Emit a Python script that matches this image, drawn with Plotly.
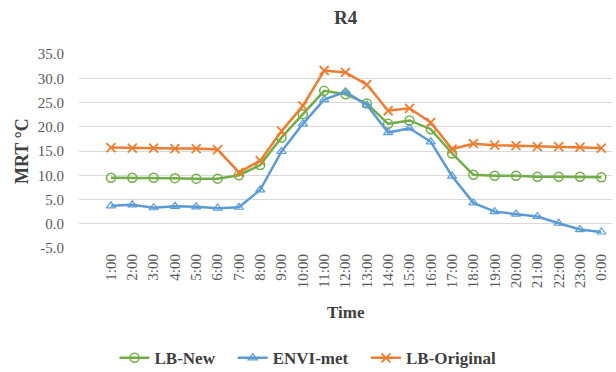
import plotly.graph_objects as go

hours = ["1:00", "2:00", "3:00", "4:00", "5:00", "6:00", "7:00", "8:00", "9:00", "10:00",
         "11:00", "12:00", "13:00", "14:00", "15:00", "16:00", "17:00", "18:00", "19:00",
         "20:00", "21:00", "22:00", "23:00", "0:00"]

lb_new = [9.5, 9.5, 9.5, 9.4, 9.3, 9.3, 10.0, 12.1, 17.8, 22.6, 27.4, 26.7, 24.8, 20.6,
          21.3, 19.5, 14.5, 10.1, 9.9, 9.9, 9.7, 9.7, 9.7, 9.6]
envi_met = [3.7, 3.9, 3.3, 3.6, 3.5, 3.2, 3.4, 7.0, 14.9, 20.6, 25.6, 27.2, 24.5, 18.8,
            19.7, 16.9, 9.8, 4.3, 2.5, 2.0, 1.5, 0.1, -1.2, -1.7]
lb_original = [15.7, 15.6, 15.6, 15.5, 15.5, 15.3, 10.6, 13.0, 19.1, 24.3, 31.6, 31.2, 28.7,
               23.3, 23.8, 20.9, 15.4, 16.5, 16.2, 16.1, 15.9, 15.9, 15.8, 15.6]

y_ticks = [-5, 0, 5, 10, 15, 20, 25, 30, 35]

GREEN = "#70AD47"
BLUE = "#5B9BD5"
ORANGE = "#ED7D31"
SERIF = "Liberation Serif"
PAD = "\u00a0\u00a0\u00a0"

fig = go.Figure()
fig.add_trace(go.Scatter(
    x=hours, y=lb_new, name="LB-New" + PAD, mode="lines+markers",
    line=dict(color=GREEN, width=2.5),
    marker=dict(symbol="circle-open", size=9, color=GREEN, line=dict(width=1.5, color=GREEN)),
))
fig.add_trace(go.Scatter(
    x=hours, y=envi_met, name="ENVI-met" + PAD, mode="lines+markers",
    line=dict(color=BLUE, width=2.5),
    marker=dict(symbol="triangle-up-open", size=8, color=BLUE, line=dict(width=1.2, color=BLUE)),
))
fig.add_trace(go.Scatter(
    x=hours, y=lb_original, name="LB-Original", mode="lines+markers",
    line=dict(color=ORANGE, width=2.5),
    marker=dict(symbol="x-thin-open", size=9, color=ORANGE, line=dict(width=1.8, color=ORANGE)),
))

fig.update_layout(
    width=616, height=372,
    margin=dict(l=79, r=4, t=54, b=124),
    paper_bgcolor="white", plot_bgcolor="white",
    font=dict(family=SERIF, color="#595959"),
    showlegend=True,
    legend=dict(
        orientation="h", xref="container", x=0.5, xanchor="center",
        yref="container", y=0.037, yanchor="middle",
        font=dict(family=SERIF, size=17, color="#404040", weight="bold"),
        itemwidth=30, tracegroupgap=0,
    ),
    annotations=[
        dict(text="<b>R4</b>", xref="paper", yref="paper", x=0.5, y=1, yshift=37,
             showarrow=False, xanchor="center", yanchor="middle",
             font=dict(family=SERIF, size=19, color="#404040")),
        dict(text="<b>Time</b>", xref="paper", yref="paper", x=0.5, y=0, yshift=-64,
             showarrow=False, xanchor="center", yanchor="middle",
             font=dict(family=SERIF, size=17, color="#404040")),
        dict(text="<b>MRT °C</b>", xref="paper", yref="paper", x=0, xshift=-57, y=0.5,
             showarrow=False, xanchor="center", yanchor="middle", textangle=-90,
             font=dict(family=SERIF, size=18, color="#404040")),
    ],
)

fig.update_xaxes(
    type="category", range=[-1.5, 23.5],
    tickangle=-90, tickfont=dict(family=SERIF, size=15, color="#595959"),
    showgrid=False, showline=False, zeroline=False, ticks="",
    ticklabelstandoff=2,
)
fig.update_yaxes(
    range=[-5, 35], tickvals=y_ticks, ticktext=[f"{v:.1f}" for v in y_ticks],
    tickfont=dict(family=SERIF, size=15, color="#595959"),
    showgrid=True, gridcolor="#D9D9D9", gridwidth=1,
    zeroline=False, showline=False, ticks="",
    ticklabelstandoff=14,
)

fig.write_html("out.html")
